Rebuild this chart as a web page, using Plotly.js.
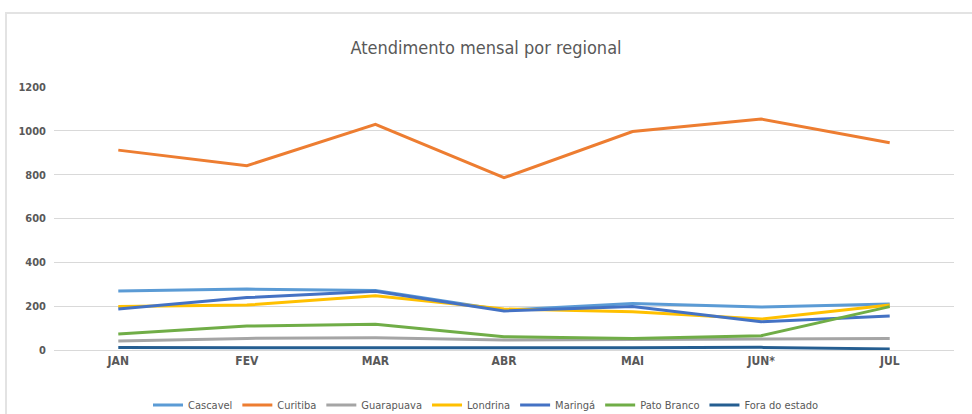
<!DOCTYPE html>
<html>
<head>
<meta charset="utf-8">
<script src="https://cdn.plot.ly/plotly-3.0.1.min.js"></script>
<style>
  html, body { margin: 0; padding: 0; background: #fff; }
  #frame { position: absolute; left: 5px; top: 12px; width: 980px; height: 420px; border: 2px solid #e3e3e3; box-sizing: border-box; }
  #chart { position: absolute; left: 0; top: 0; width: 972px; height: 414px; }
</style>
</head>
<body>
<div id="frame"></div>
<div id="chart"></div>
<script>
const months = ["JAN", "FEV", "MAR", "ABR", "MAI", "JUN*", "JUL"];
const cascavel     = [269, 278, 272, 182, 212, 196, 210];
const curitiba     = [912, 841, 1030, 786, 997, 1054, 946];
const guarapuava   = [41, 53, 56, 46, 48, 49, 52];
const londrina     = [198, 205, 248, 187, 175, 141, 205];
const maringa      = [187, 239, 268, 178, 198, 129, 155];
const patoBranco   = [73, 109, 117, 61, 53, 65, 198];
const foraDoEstado = [11, 10, 10, 8, 10, 12, 5];
const yTicks = [0, 200, 400, 600, 800, 1000, 1200];

const seriesNames = ["Cascavel", "Curitiba", "Guarapuava", "Londrina", "Maringá", "Pato Branco", "Fora do estado"];
const seriesData = [cascavel, curitiba, guarapuava, londrina, maringa, patoBranco, foraDoEstado];
const colors = ["#5B9BD5", "#ED7D31", "#A5A5A5", "#FFC000", "#4472C4", "#70AD47", "#255E91"];

const FONT = '"Liberation Sans Narrow", "DejaVu Sans Condensed", "Arial Narrow", sans-serif';

const traces = seriesNames.map((n, i) => ({
  type: "scatter",
  mode: "lines",
  name: n,
  x: months,
  y: seriesData[i],
  line: { color: colors[i], width: 3 },
  hoverinfo: "x+y+name"
}));

const layout = {
  width: 972,
  height: 414,
  paper_bgcolor: "rgba(0,0,0,0)",
  plot_bgcolor: "rgba(0,0,0,0)",
  margin: { l: 54, r: 18, t: 87, b: 64 },
  title: {
    text: "Atendimento mensal por regional",
    font: { family: FONT, size: 18, color: "#595959" },
    x: 0.5, xanchor: "center", y: 0.885, yanchor: "middle"
  },
  xaxis: {
    type: "category",
    range: [-0.5, 6.5],
    showgrid: false,
    zeroline: false,
    showline: false,
    ticks: "",
    ticklabelstandoff: 2,
    tickfont: { family: FONT, size: 12, color: "#595959", weight: "bold" },
    fixedrange: true
  },
  yaxis: {
    range: [0, 1200],
    tickvals: yTicks,
    ticktext: yTicks.map(String),
    showgrid: true,
    gridcolor: "#d9d9d9",
    gridwidth: 1,
    zeroline: true,
    zerolinecolor: "#d9d9d9",
    zerolinewidth: 1,
    showline: false,
    ticks: "",
    ticklabelstandoff: 7,
    tickfont: { family: FONT, size: 11, color: "#595959", weight: "bold" },
    fixedrange: true
  },
  legend: {
    orientation: "h",
    x: 0.5, xanchor: "center", xref: "container",
    y: 0.022, yanchor: "middle", yref: "container",
    font: { family: FONT, size: 11, color: "#595959" },
    itemwidth: 30,
    tracegroupgap: 0,
    bgcolor: "rgba(0,0,0,0)"
  },
  showlegend: true
};

Plotly.newPlot("chart", traces, layout, { displayModeBar: false, staticPlot: true });
</script>
</body>
</html>
